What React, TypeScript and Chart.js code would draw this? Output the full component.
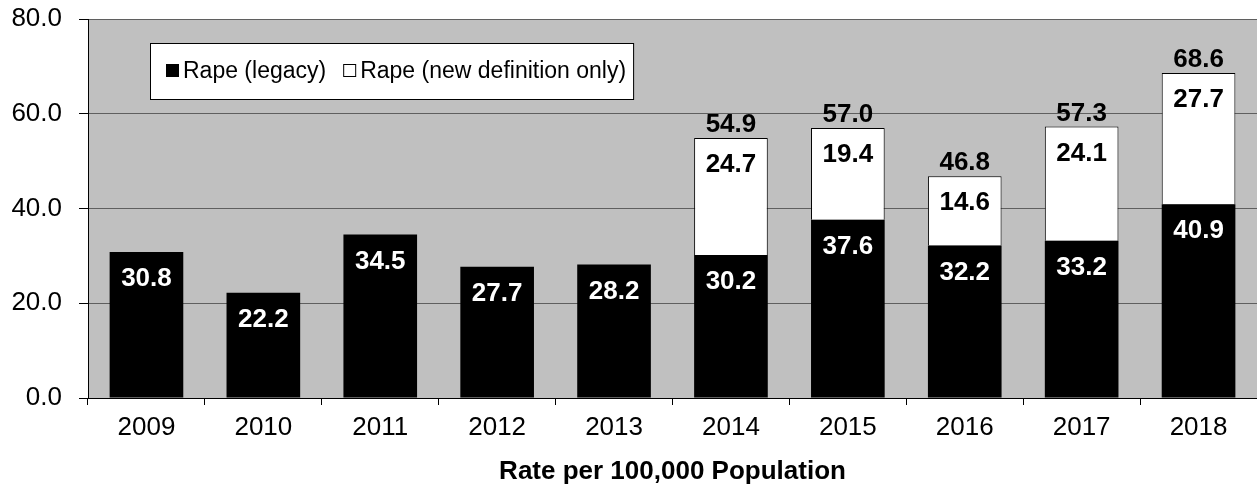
import { useEffect, useRef } from "react";
import { Chart, registerables } from "chart.js";

Chart.register(...registerables);

const FONT = "'Liberation Sans', Arial, Helvetica, sans-serif";

const years = ["2009", "2010", "2011", "2012", "2013", "2014", "2015", "2016", "2017", "2018"];
const legacyRates = [30.8, 22.2, 34.5, 27.7, 28.2, 30.2, 37.6, 32.2, 33.2, 40.9];
const newDefinitionRates: (number | null)[] = [null, null, null, null, null, 24.7, 19.4, 14.6, 24.1, 27.7];
const yTickValues = [0, 20, 40, 60, 80];
const seriesLabels = ["Rape (legacy)", "Rape (new definition only)"];
const xAxisTitle = "Rate per 100,000 Population";

const backgroundPlugin = {
  id: "plotBackground",
  beforeDraw(chart: any) {
    const { ctx, chartArea } = chart;
    ctx.save();
    ctx.fillStyle = "#c0c0c0";
    ctx.fillRect(chartArea.left, chartArea.top, chartArea.right - chartArea.left, chartArea.bottom - chartArea.top);
    ctx.restore();
  },
};

const valueLabelPlugin = {
  id: "valueLabels",
  afterDatasetsDraw(chart: any) {
    const { ctx } = chart;
    const yScale = chart.scales.y;
    ctx.save();
    ctx.font = `bold 26px ${FONT}`;
    ctx.textAlign = "center";
    ctx.textBaseline = "middle";
    chart.data.datasets.forEach((ds: any, di: number) => {
      const meta = chart.getDatasetMeta(di);
      meta.data.forEach((bar: any, i: number) => {
        const v = ds.data[i];
        if (v === null || v === undefined) return;
        ctx.fillStyle = di === 0 ? "#ffffff" : "#000000";
        ctx.fillText(Number(v).toFixed(1), bar.x, bar.y + 27);
      });
    });
    // totals above stacked bars
    const meta0 = chart.getDatasetMeta(0);
    years.forEach((_, i) => {
      const extra = newDefinitionRates[i];
      if (extra === null || extra === undefined) return;
      const total = legacyRates[i] + extra;
      const x = meta0.data[i].x;
      const y = yScale.getPixelForValue(total);
      ctx.fillStyle = "#000000";
      ctx.fillText(total.toFixed(1), x, y - 13);
    });
    ctx.restore();
  },
};

const legendTitlePlugin = {
  id: "legendAndTitle",
  afterDraw(chart: any) {
    const { ctx, chartArea } = chart;
    ctx.save();
    // Legend box inside plot area
    ctx.font = `23px ${FONT}`;
    const boxLeft = chartArea.left + 62;
    const boxTop = chartArea.top + 24;
    const boxH = 56;
    const sq = 13;
    let x = boxLeft + 16;
    const items: { sx: number; tx: number; label: string }[] = [];
    seriesLabels.forEach((label, idx) => {
      const sx = x;
      const tx = sx + sq + 4;
      items.push({ sx, tx, label });
      x = tx + ctx.measureText(label).width + (idx === 0 ? 17 : 0);
    });
    const boxW = x + 7 - boxLeft;
    ctx.fillStyle = "#ffffff";
    ctx.fillRect(boxLeft, boxTop, boxW, boxH);
    ctx.strokeStyle = "#000000";
    ctx.lineWidth = 1;
    ctx.strokeRect(boxLeft + 0.5, boxTop + 0.5, boxW, boxH);
    const cy = boxTop + boxH / 2;
    items.forEach((it, idx) => {
      if (idx === 0) {
        ctx.fillStyle = "#000000";
        ctx.fillRect(it.sx, cy - 7, sq, sq);
      } else {
        ctx.fillStyle = "#ffffff";
        ctx.fillRect(it.sx, cy - 7, sq, sq);
        ctx.strokeStyle = "#000000";
        ctx.strokeRect(it.sx + 0.5, cy - 6.5, sq - 1, sq - 1);
      }
      ctx.fillStyle = "#000000";
      ctx.textAlign = "left";
      ctx.textBaseline = "middle";
      ctx.fillText(it.label, it.tx, cy + 1);
    });
    // X axis title
    ctx.font = `bold 26px ${FONT}`;
    ctx.textAlign = "center";
    ctx.textBaseline = "middle";
    ctx.fillStyle = "#000000";
    ctx.fillText(xAxisTitle, (chartArea.left + chartArea.right) / 2, chartArea.bottom + 74);
    ctx.restore();
  },
};

export default function App() {
  const canvasRef = useRef<HTMLCanvasElement | null>(null);

  useEffect(() => {
    if (!canvasRef.current) return;
    const chart = new Chart(canvasRef.current, {
      type: "bar",
      data: {
        labels: years,
        datasets: [
          {
            label: seriesLabels[0],
            data: legacyRates,
            backgroundColor: "#000000",
            borderWidth: 0,
            barPercentage: 0.63,
            categoryPercentage: 1,
          },
          {
            label: seriesLabels[1],
            data: newDefinitionRates,
            backgroundColor: "#ffffff",
            borderColor: "#000000",
            borderWidth: 1,
            barPercentage: 0.63,
            categoryPercentage: 1,
          },
        ],
      },
      options: {
        responsive: false,
        animation: false,
        layout: { padding: { top: 19, left: 0, right: 0, bottom: 0 } },
        plugins: {
          legend: { display: false },
          tooltip: { enabled: false },
        },
        scales: {
          x: {
            stacked: true,
            afterFit: (s: any) => {
              s.height = 104;
              s.paddingLeft = 0;
              s.paddingRight = 0;
            },
            ticks: {
              color: "#000000",
              font: { family: FONT, size: 26 },
              padding: 7,
              maxRotation: 0,
              autoSkip: false,
            },
            grid: {
              offset: true,
              drawOnChartArea: false,
              drawTicks: true,
              tickLength: 7,
              tickColor: "#000000",
              color: "#000000",
            },
            border: { color: "#000000", width: 1 },
          },
          y: {
            stacked: true,
            min: 0,
            max: 80,
            afterFit: (s: any) => {
              s.width = 88;
              s.paddingTop = 0;
              s.paddingBottom = 0;
            },
            afterBuildTicks: (s: any) => {
              s.ticks = yTickValues.map((v) => ({ value: v }));
            },
            ticks: {
              color: "#000000",
              font: { family: FONT, size: 26 },
              padding: 17,
              callback: (v: any) => Number(v).toFixed(1),
            },
            grid: {
              color: (c: any) => (c.tick && c.tick.value === 0 ? "#000000" : "#5f5f5f"),
              lineWidth: 1,
              drawTicks: true,
              tickLength: 9,
              tickColor: "#000000",
            },
            border: { color: "#000000", width: 1 },
          },
        },
      },
      plugins: [backgroundPlugin, valueLabelPlugin, legendTitlePlugin],
    });
    return () => chart.destroy();
  }, []);

  return (
    <div style={{ position: "absolute", left: 0, top: 0, width: 1257, height: 502, background: "#ffffff" }}>
      <canvas ref={canvasRef} width={1257} height={502} style={{ display: "block" }} />
    </div>
  );
}
